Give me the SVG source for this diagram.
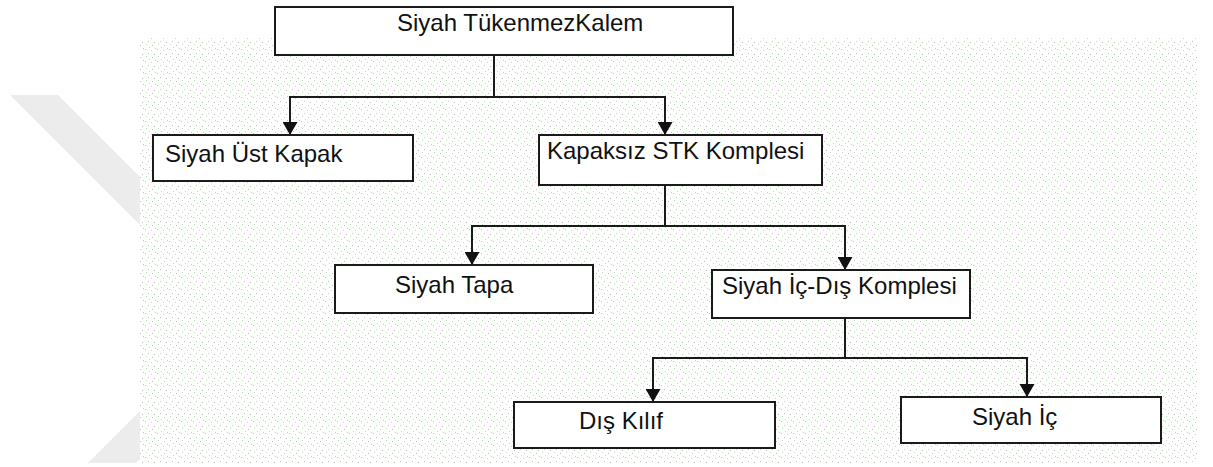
<svg xmlns="http://www.w3.org/2000/svg" width="1213" height="467" viewBox="0 0 1213 467">
  <style>
    .box { fill: #ffffff; stroke: #1a1a1a; stroke-width: 2; }
    .lbl { font-family: "Liberation Sans", Arial, sans-serif; font-size: 24px; fill: #111111; }
    .conn { fill: none; stroke: #1a1a1a; stroke-width: 2; marker-end: url(#arr); }
  </style>
  <defs>
    <marker id="arr" viewBox="0 0 13 15" refX="13" refY="7.5" markerWidth="13" markerHeight="15" markerUnits="userSpaceOnUse" orient="auto">
      <path d="M0,0 L13,7.5 L0,15 z" fill="#111111"/>
    </marker>
    <pattern id="dots" width="12" height="12" patternUnits="userSpaceOnUse">
      <rect x="1" y="1" width="1" height="1" fill="#eeaaea"/>
      <rect x="7" y="2" width="1" height="1" fill="#b2e4b2"/>
      <rect x="4" y="5" width="1" height="1" fill="#eeaaea"/>
      <rect x="10" y="6" width="1" height="1" fill="#bdbdbd"/>
      <rect x="2" y="8" width="1" height="1" fill="#b2e4b2"/>
      <rect x="8" y="9" width="1" height="1" fill="#eeaaea"/>
      <rect x="5" y="11" width="1" height="1" fill="#b2e4b2"/>
      <rect x="11" y="0" width="1" height="1" fill="#eeaaea"/>
    </pattern>
  </defs>
  <rect width="1213" height="467" fill="#ffffff"/>
  <polygon points="10,95 58,95 281,318 136,463 88,463 233,318" fill="#ececec"/>
  <rect x="140" y="38" width="1058" height="425" fill="#ffffff"/>
  <rect x="140" y="38" width="1058" height="425" fill="url(#dots)"/>

  <g id="connectors">
    <path class="conn" d="M494,55 V97 H290 V135"/>
    <path class="conn" d="M494,97 H665 V135"/>
    <path class="conn" d="M665,185 V226 H472 V265"/>
    <path class="conn" d="M665,226 H845 V270"/>
    <path class="conn" d="M845,318 V358 H653 V402"/>
    <path class="conn" d="M845,358 H1027 V397"/>
  </g>

  <g id="node-siyah-tukenmezkalem">
    <rect class="box" x="275" y="7" width="458" height="48"/>
    <text class="lbl" x="397" y="31">Siyah TükenmezKalem</text>
  </g>
  <g id="node-siyah-ust-kapak">
    <rect class="box" x="153" y="135" width="260" height="46"/>
    <text class="lbl" x="165" y="162">Siyah Üst Kapak</text>
  </g>
  <g id="node-kapaksiz-stk-komplesi">
    <rect class="box" x="539" y="135" width="283" height="50"/>
    <text class="lbl" x="547" y="159">Kapaksız STK Komplesi</text>
  </g>
  <g id="node-siyah-tapa">
    <rect class="box" x="335" y="265" width="258" height="48"/>
    <text class="lbl" x="395" y="293">Siyah Tapa</text>
  </g>
  <g id="node-siyah-ic-dis-komplesi">
    <rect class="box" x="712" y="270" width="258" height="48"/>
    <text class="lbl" x="722" y="294">Siyah İç-Dış Komplesi</text>
  </g>
  <g id="node-dis-kilif">
    <rect class="box" x="514" y="402" width="261" height="46"/>
    <text class="lbl" x="579" y="429">Dış Kılıf</text>
  </g>
  <g id="node-siyah-ic">
    <rect class="box" x="901" y="397" width="260" height="46"/>
    <text class="lbl" x="972" y="425">Siyah İç</text>
  </g>
</svg>
